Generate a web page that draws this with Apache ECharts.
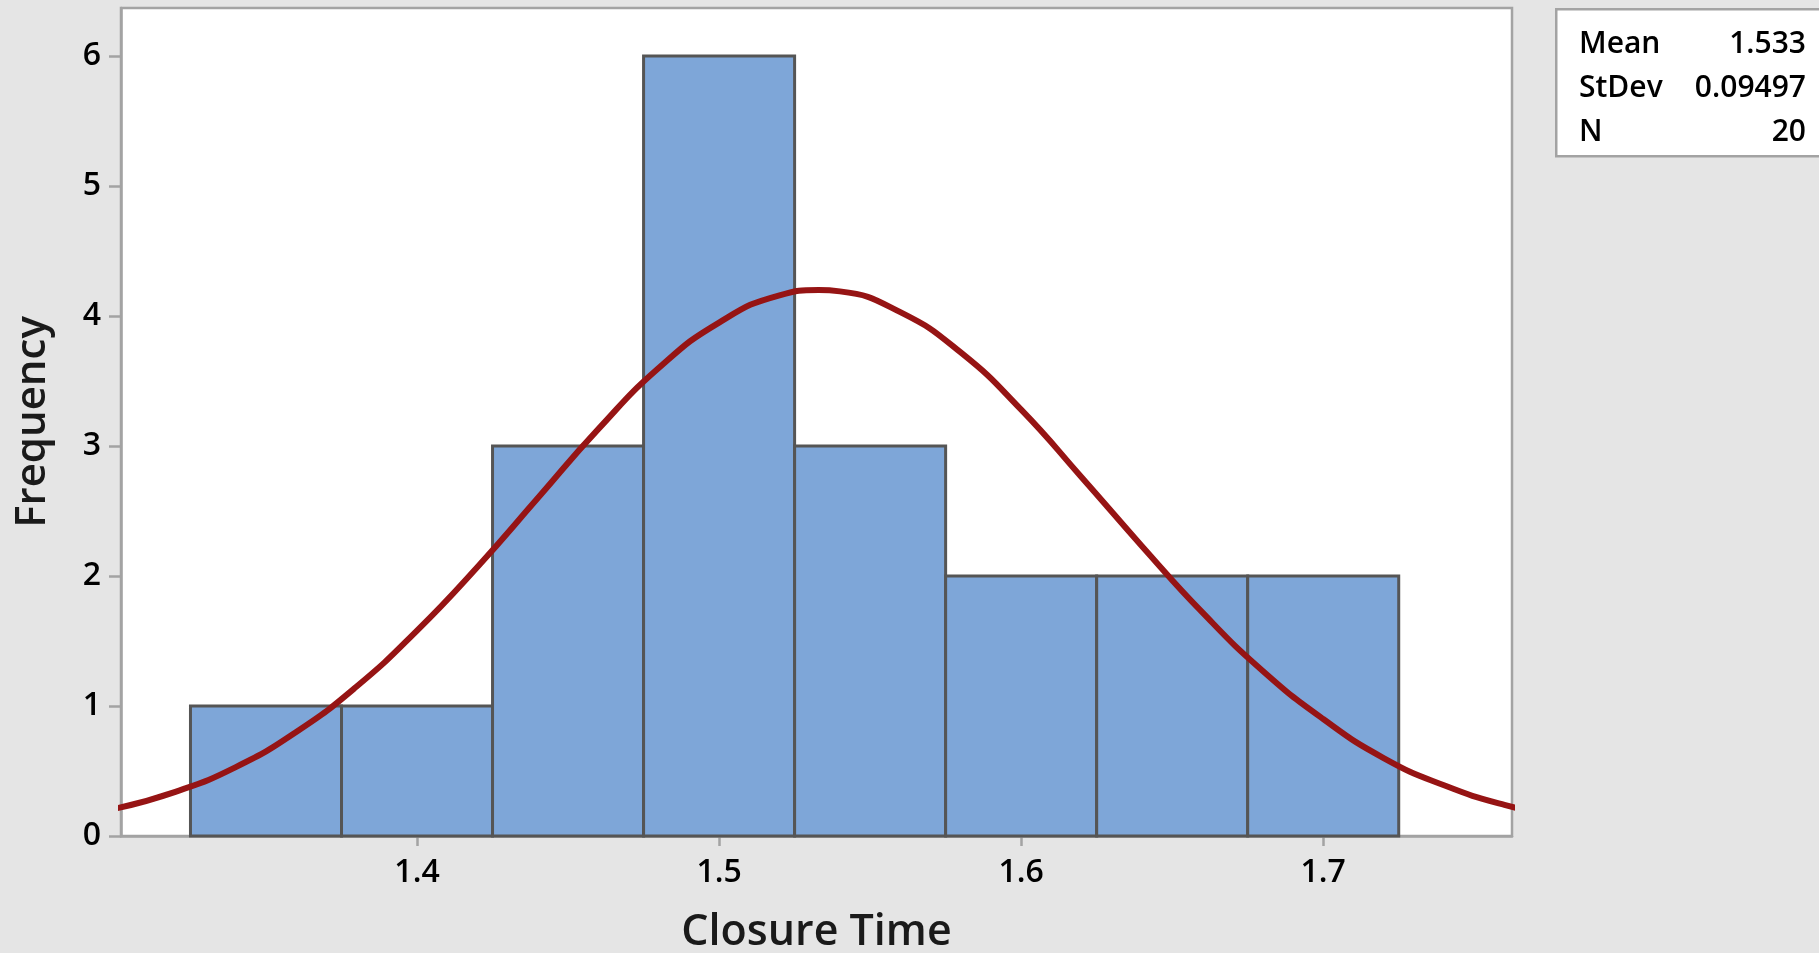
<!DOCTYPE html>
<html>
<head>
<meta charset="utf-8">
<title>Closure Time histogram</title>
<script src="https://cdn.jsdelivr.net/npm/echarts@6/dist/echarts.min.js"></script>
<style>
    html, body { margin: 0; padding: 0; background: #e5e5e5; }
    #chart { width: 1819px; height: 953px; }
</style>
</head>
<body>
<div id="chart"></div>
<script>
// histogram bins (centre of each bin) and their counts
const binCenters = [1.35, 1.40, 1.45, 1.50, 1.55, 1.60, 1.65, 1.70];
const binCounts = [1, 1, 3, 6, 3, 2, 2, 2];
const binWidth = 0.05;

// fitted normal curve
const curveX = [1.30, 1.32, 1.34, 1.36, 1.38, 1.40, 1.42, 1.44, 1.46, 1.48, 1.50, 1.52, 1.533,
    1.54, 1.56, 1.58, 1.60, 1.62, 1.64, 1.66, 1.68, 1.70, 1.72, 1.74, 1.76, 1.78];
const curveY = [0.21, 0.34, 0.53, 0.80, 1.15, 1.58, 2.07, 2.60, 3.13, 3.60, 3.95, 4.16, 4.20,
    4.19, 4.03, 3.72, 3.28, 2.76, 2.23, 1.72, 1.27, 0.90, 0.60, 0.39, 0.24, 0.14];

// axis ticks
const xTicks = [1.4, 1.5, 1.6, 1.7];
const yTicks = [0, 1, 2, 3, 4, 5, 6];

// summary box
const statLabels = ['Mean', 'StDev', 'N'];
const statValues = ['1.533', '0.09497', '20'];

const chart = echarts.init(document.getElementById('chart'));

const histData = binCenters.map((c, i) => [c - binWidth / 2, c + binWidth / 2, binCounts[i]]);
const curveData = curveX.map((x, i) => [x, curveY[i]]);

const statTexts = [];
statLabels.forEach((lab, i) => {
    statTexts.push({
        type: 'text', left: 1579, top: 29 + i * 44,
        style: { text: lab, font: '600 30px "Open Sans"', fill: '#000' }
    });
    statTexts.push({
        type: 'text', right: 13, top: 29 + i * 44,
        style: { text: statValues[i], font: '600 30px "Open Sans"', fill: '#000', align: 'right' }
    });
});

let option = {
    backgroundColor: '#e5e5e5',
    textStyle: { fontFamily: 'Open Sans' },
    grid: {
        left: 121, right: 307, top: 8, bottom: 117,
        outerBoundsMode: 'none',
        containLabel: false,
        show: true,
        backgroundColor: '#ffffff',
        borderColor: '#a3a3a3',
        borderWidth: 2.5
    },
    xAxis: {
        type: 'value',
        min: 1.302,
        max: 1.7625,
        name: 'Closure Time',
        nameLocation: 'middle',
        nameGap: 75,
        nameTextStyle: { fontSize: 43, fontWeight: 600, color: '#1a1a1a' },
        splitLine: { show: false },
        axisLine: { show: true, lineStyle: { color: '#a3a3a3', width: 2.5 } },
        axisTick: { show: true, customValues: xTicks, length: 10, lineStyle: { color: '#a3a3a3', width: 2.5 } },
        axisLabel: {
            customValues: xTicks, margin: 21, fontSize: 32, fontWeight: 600, color: '#000',
            formatter: v => v.toFixed(1)
        }
    },
    yAxis: {
        type: 'value',
        min: 0,
        max: 6.37,
        name: 'Frequency',
        nameLocation: 'middle',
        nameGap: 67,
        nameTextStyle: { fontSize: 42, fontWeight: 600, color: '#1a1a1a' },
        splitLine: { show: false },
        axisLine: { show: true, lineStyle: { color: '#a3a3a3', width: 2.5 } },
        axisTick: { show: true, customValues: yTicks, length: 12, lineStyle: { color: '#a3a3a3', width: 2.5 } },
        axisLabel: { customValues: yTicks, margin: 20, fontSize: 32, fontWeight: 600, color: '#000' }
    },
    series: [
        {
            type: 'custom',
            data: histData,
            encode: { x: [0, 1], y: 2 },
            renderItem: function (params, api) {
                const p0 = api.coord([api.value(0), api.value(2)]);
                const p1 = api.coord([api.value(1), 0]);
                return {
                    type: 'rect',
                    shape: { x: p0[0], y: p0[1], width: p1[0] - p0[0], height: p1[1] - p0[1] },
                    style: { fill: '#7ea6d8', stroke: '#555555', lineWidth: 3 }
                };
            },
            z: 2
        },
        {
            type: 'line',
            data: curveData,
            smooth: true,
            showSymbol: false,
            clip: true,
            lineStyle: { color: '#961414', width: 6 },
            z: 3
        }
    ],
    graphic: [
        {
            type: 'rect', left: 1555, top: 8,
            shape: { width: 300, height: 147 },
            style: { fill: '#ffffff', stroke: '#a3a3a3', lineWidth: 2.5 }
        }
    ].concat(statTexts)
};

chart.setOption(option);
</script>
</body>
</html>
